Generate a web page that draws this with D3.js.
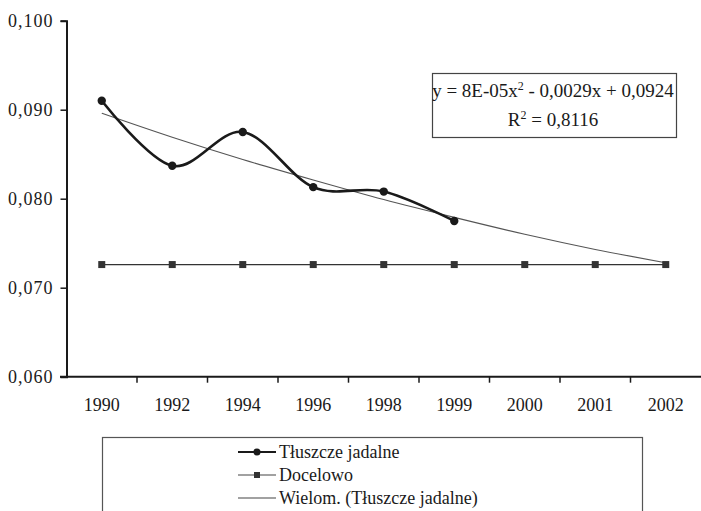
<!DOCTYPE html>
<html>
<head>
<meta charset="utf-8">
<script src="https://cdn.jsdelivr.net/npm/d3@7"></script>
<style>
    body { margin: 0; background: #fff; }
    svg { display: block; font-family: "Liberation Serif", "Times New Roman", serif; }
</style>
</head>
<body>
<div id="chart"></div>
<script>
const years = ["1990", "1992", "1994", "1996", "1998", "1999", "2000", "2001", "2002"];
const fatValues = [0.0910, 0.0837, 0.0875, 0.0813, 0.0808, 0.0775];
const targetValues = [0.0726, 0.0726, 0.0726, 0.0726, 0.0726, 0.0726, 0.0726, 0.0726, 0.0726];
const trendValues = [0.0896, 0.0869, 0.0844, 0.0821, 0.0799, 0.0779, 0.0760, 0.0743, 0.0728];
const yTicks = [0.060, 0.070, 0.080, 0.090, 0.100];
const legendLabels = ["Tłuszcze jadalne", "Docelowo", "Wielom. (Tłuszcze jadalne)"];
const equationText = ["y = 8E-05x", "2", " - 0,0029x + 0,0924"];
const rSquaredText = ["R", "2", " = 0,8116"];

function draw_chart() {
    const width = 701, height = 511;
    const ink = "#1a1a1a";

    const svg = d3.select("#chart").append("svg")
        .attr("width", width)
        .attr("height", height);

    const x = d3.scaleBand()
        .domain(years)
        .range([66.5, 701]);

    const y = d3.scaleLinear()
        .domain([0.060, 0.100])
        .range([376.7, 20.7]);

    const fmt = v => d3.format(".3f")(v).replace(".", ",");

    // y axis
    const yAxis = svg.append("g")
        .attr("transform", "translate(66.5,0)")
        .call(d3.axisLeft(y).tickValues(yTicks).tickFormat(fmt).tickSize(6).tickPadding(7));
    yAxis.select(".domain").attr("stroke", ink).attr("stroke-width", 2);
    yAxis.selectAll(".tick line").attr("stroke", ink).attr("stroke-width", 1.5);
    yAxis.selectAll(".tick text")
        .attr("font-size", 18)
        .attr("letter-spacing", 1)
        .attr("fill", ink)
        .style("font-family", "Liberation Serif");

    // x axis: ticks between categories
    const xAxis = svg.append("g")
        .attr("transform", "translate(0,376.7)");
    xAxis.append("line")
        .attr("x1", 60).attr("x2", 701)
        .attr("stroke", ink).attr("stroke-width", 2);
    xAxis.selectAll(".xt")
        .data(years.slice(1))
        .join("line")
        .attr("x1", d => x(d)).attr("x2", d => x(d))
        .attr("y1", 0).attr("y2", 6)
        .attr("stroke", ink).attr("stroke-width", 1.5);
    xAxis.selectAll(".xl")
        .data(years)
        .join("text")
        .attr("x", d => x(d) + x.bandwidth() / 2)
        .attr("y", 34)
        .attr("text-anchor", "middle")
        .attr("font-size", 18)
        .attr("fill", ink)
        .text(d => d);

    const cx = d => x(d) + x.bandwidth() / 2;

    // trend line
    svg.append("path")
        .datum(trendValues)
        .attr("fill", "none")
        .attr("stroke", "#555")
        .attr("stroke-width", 1.1)
        .attr("d", d3.line().x((d, i) => cx(years[i])).y(d => y(d)).curve(d3.curveMonotoneX));

    // target series
    svg.append("path")
        .datum(targetValues)
        .attr("fill", "none")
        .attr("stroke", "#333")
        .attr("stroke-width", 1.3)
        .attr("d", d3.line().x((d, i) => cx(years[i])).y(d => y(d)));
    svg.selectAll(".sq")
        .data(targetValues)
        .join("rect")
        .attr("x", (d, i) => cx(years[i]) - 3.5)
        .attr("y", d => y(d) - 3.5)
        .attr("width", 7).attr("height", 7)
        .attr("fill", "#333");

    // main series, smoothed
    svg.append("path")
        .datum(fatValues)
        .attr("fill", "none")
        .attr("stroke", ink)
        .attr("stroke-width", 2.6)
        .attr("d", d3.line().x((d, i) => cx(years[i])).y(d => y(d)).curve(d3.curveCatmullRom.alpha(0)));
    svg.selectAll(".dot")
        .data(fatValues)
        .join("circle")
        .attr("cx", (d, i) => cx(years[i]))
        .attr("cy", d => y(d))
        .attr("r", 4.2)
        .attr("fill", ink);

    // equation box
    const eq = svg.append("g");
    eq.append("rect")
        .attr("x", 432.5).attr("y", 73.5)
        .attr("width", 244).attr("height", 64)
        .attr("fill", "#fff")
        .attr("stroke", "#444").attr("stroke-width", 1.2);
    const line1 = eq.append("text")
        .attr("x", 553).attr("y", 97)
        .attr("text-anchor", "middle")
        .attr("font-size", 19)
        .attr("fill", ink);
    line1.append("tspan").text(equationText[0]);
    line1.append("tspan").attr("dy", -7).attr("font-size", 12).text(equationText[1]);
    line1.append("tspan").attr("dy", 7).text(equationText[2]);
    const line2 = eq.append("text")
        .attr("x", 553).attr("y", 126)
        .attr("text-anchor", "middle")
        .attr("font-size", 19)
        .attr("fill", ink);
    line2.append("tspan").text(rSquaredText[0]);
    line2.append("tspan").attr("dy", -7).attr("font-size", 12).text(rSquaredText[1]);
    line2.append("tspan").attr("dy", 7).text(rSquaredText[2]);

    // legend
    const legend = svg.append("g");
    legend.append("rect")
        .attr("x", 102.5).attr("y", 437.5)
        .attr("width", 540).attr("height", 100)
        .attr("fill", "#fff")
        .attr("stroke", "#555").attr("stroke-width", 1.2);
    const rows = legend.selectAll(".row")
        .data(legendLabels)
        .join("g")
        .attr("transform", (d, i) => `translate(0,${452 + i * 23})`);
    rows.append("line")
        .attr("x1", 238).attr("x2", 276)
        .attr("stroke", (d, i) => i === 0 ? ink : "#444")
        .attr("stroke-width", (d, i) => i === 0 ? 2 : 1.1);
    rows.filter((d, i) => i === 0).append("circle")
        .attr("cx", 257).attr("r", 3.5).attr("fill", ink);
    rows.filter((d, i) => i === 1).append("rect")
        .attr("x", 254).attr("y", -3).attr("width", 6).attr("height", 6).attr("fill", "#333");
    rows.append("text")
        .attr("x", 279).attr("y", 6)
        .attr("font-size", 18)
        .attr("fill", ink)
        .text(d => d);
}

draw_chart();
</script>
</body>
</html>
